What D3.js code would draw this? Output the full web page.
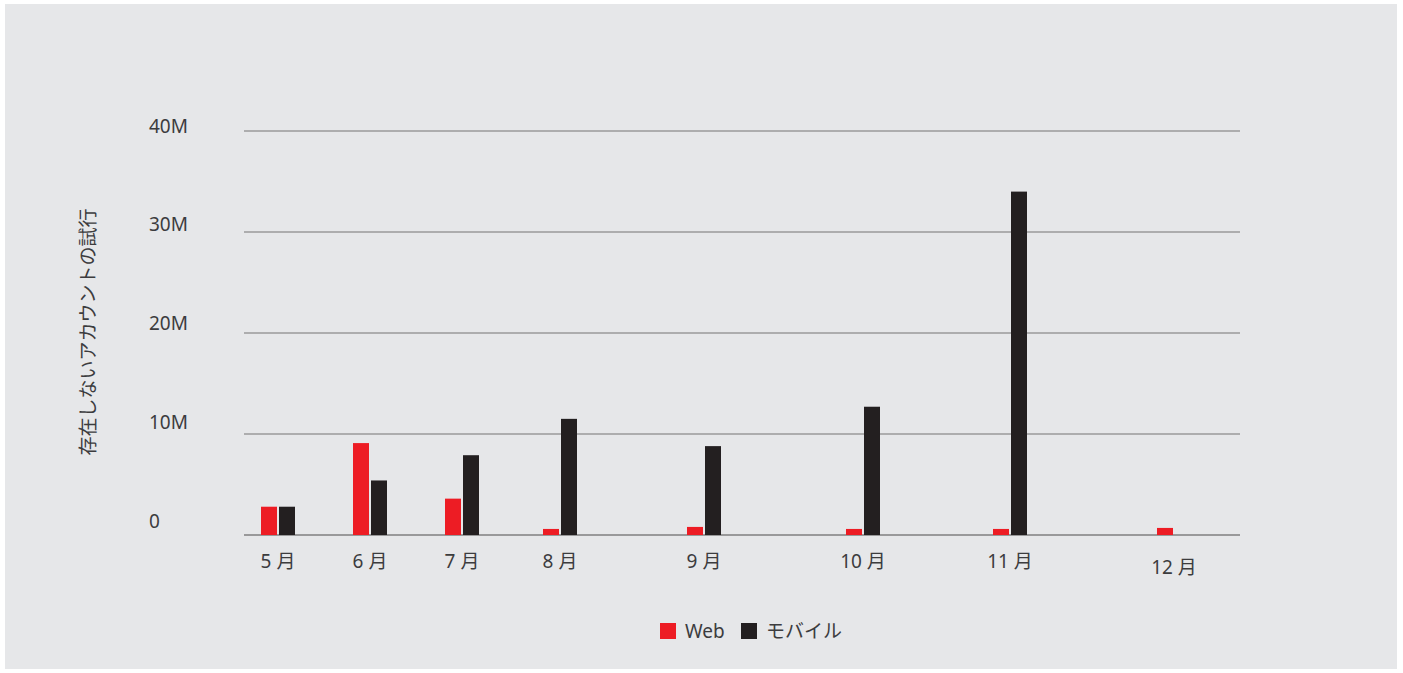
<!DOCTYPE html>
<html>
<head>
<meta charset="utf-8">
<script src="https://cdn.jsdelivr.net/npm/d3@7"></script>
<style>
  body { margin: 0; background: #fff; }
  text { font-family: "Noto Sans", "Noto Sans CJK JP", sans-serif; fill: #3c3c3e; }
</style>
</head>
<body>
<svg class="chart" width="1403" height="673"></svg>
<script>
// data (millions)
var months = ["5 月", "6 月", "7 月", "8 月", "9 月", "10 月", "11 月", "12 月"];
var webValues = [2.8, 9.1, 3.6, 0.6, 0.8, 0.6, 0.6, 0.7];
var mobileValues = [2.8, 5.4, 7.9, 11.5, 8.8, 12.7, 34.0, 0];
var yTicks = [0, 10, 20, 30, 40];
var tickLabels = ["0", "10M", "20M", "30M", "40M"];
var seriesNames = ["Web", "モバイル"];
var colors = ["#ed1c24", "#231f20"];

var svg = d3.select(".chart");

// panel background
svg.append("rect")
  .attr("x", 5).attr("y", 4)
  .attr("width", 1392).attr("height", 665)
  .attr("fill", "#e6e7e9");

// month centers are not evenly spaced in the original
var x = d3.scaleLinear().domain(d3.range(months.length))
  .range([278, 370, 462, 560, 704, 863, 1010, 1174]);
var x1 = d3.scaleBand().domain([0, 1]).range([-17, 17]).paddingInner(2 / 18);
var y = d3.scaleLinear().domain([0, 40]).range([535, 131]);
var yLabel = d3.scaleLinear().domain([0, 40]).range([521, 126]);

// gridlines
svg.append("g").selectAll("line")
  .data(yTicks)
  .join("line")
  .attr("x1", 244).attr("x2", 1240)
  .attr("y1", function(d) {return y(d)})
  .attr("y2", function(d) {return y(d)})
  .attr("stroke", function(d) {return d === 0 ? "#7f7f7f" : "#9a9a9a"})
  .attr("stroke-width", 1.5);

// y tick labels
svg.append("g").selectAll("text")
  .data(yTicks)
  .join("text")
  .attr("x", 149)
  .attr("y", function(d) {return yLabel(d)})
  .attr("dy", "0.35em")
  .attr("font-size", 19)
  .text(function(d, i) {return tickLabels[i]});

// y axis title
svg.append("text")
  .attr("transform", "translate(88,332) rotate(-90)")
  .attr("text-anchor", "middle")
  .attr("dy", "0.35em")
  .attr("font-size", 19)
  .text("存在しないアカウントの試行");

// bars
var groups = svg.append("g").selectAll("g")
  .data(months)
  .join("g")
  .attr("transform", function(d, i) {return "translate(" + x(i) + ",0)"});

groups.selectAll("rect")
  .data(function(d, i) {return [webValues[i], mobileValues[i]]})
  .join("rect")
  .attr("x", function(d, j) {return x1(j)})
  .attr("width", x1.bandwidth())
  .attr("y", function(d) {return y(d)})
  .attr("height", function(d) {return y(0) - y(d)})
  .attr("fill", function(d, j) {return colors[j]});

// month labels
svg.append("g").selectAll("text")
  .data(months)
  .join("text")
  .attr("x", function(d, i) {return x(i)})
  .attr("y", function(d, i) {return i === months.length - 1 ? 567 : 561})
  .attr("dy", "0.35em")
  .attr("text-anchor", "middle")
  .attr("font-size", 19)
  .text(function(d) {return d});

// legend
var legend = svg.append("g").attr("transform", "translate(660,631)");
var legendX = [0, 81];
var items = legend.selectAll("g")
  .data(seriesNames)
  .join("g")
  .attr("transform", function(d, i) {return "translate(" + legendX[i] + ",0)"});
items.append("rect")
  .attr("x", 0).attr("y", -8)
  .attr("width", 16).attr("height", 16)
  .attr("fill", function(d, i) {return colors[i]});
items.append("text")
  .attr("x", 25)
  .attr("dy", "0.35em")
  .attr("font-size", 19)
  .text(function(d) {return d});
</script>
</body>
</html>
